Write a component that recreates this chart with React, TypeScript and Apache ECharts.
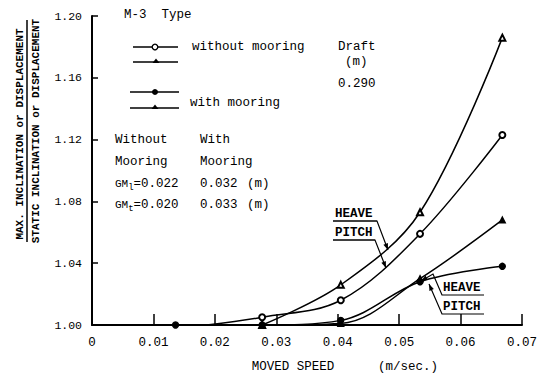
import React, { useEffect, useRef } from "react";
import * as echarts from "echarts";

const xTicks = [0, 0.01, 0.02, 0.03, 0.04, 0.05, 0.06, 0.07];
const yTicks = [1.0, 1.04, 1.08, 1.12, 1.16, 1.2];

const heaveFreeX = [0.0277, 0.0405, 0.0534, 0.0668];
const heaveFreeY = [1.0, 1.026, 1.073, 1.186];
const pitchFreeX = [0.0187, 0.0277, 0.0405, 0.0534, 0.0668];
const pitchFreeY = [1.0, 1.005, 1.016, 1.059, 1.123];
const heaveMoorX = [0.0277, 0.0405, 0.0534, 0.0668];
const heaveMoorY = [1.0, 1.001, 1.03, 1.068];
const pitchMoorX = [0.0136, 0.0277, 0.0405, 0.0534, 0.0668];
const pitchMoorY = [1.0, 1.0, 1.003, 1.028, 1.038];

const FONT = "'Liberation Mono', 'DejaVu Sans Mono', monospace";
const FS = 12.5;

function arrowHead(x1: number, y1: number, x2: number, y2: number) {
  const a = Math.atan2(y2 - y1, x2 - x1);
  const L = 7;
  const w = 0.35;
  return {
    type: "polygon",
    shape: {
      points: [
        [x2, y2],
        [x2 - L * Math.cos(a - w), y2 - L * Math.sin(a - w)],
        [x2 - L * Math.cos(a + w), y2 - L * Math.sin(a + w)],
      ],
    },
    style: { fill: "#000" },
  };
}

function leader(pts: number[][]) {
  const n = pts.length;
  return [
    { type: "polyline", shape: { points: pts }, style: { stroke: "#000", lineWidth: 1.2, fill: null } },
    arrowHead(pts[n - 2][0], pts[n - 2][1], pts[n - 1][0], pts[n - 1][1]),
  ];
}

function txt(x: number, y: number, text: string, size = FS, extra: any = {}) {
  return {
    type: "text",
    x,
    y,
    style: { text, fontFamily: FONT, fontSize: size, fill: "#000", align: "left", verticalAlign: "middle", ...extra },
  };
}

function hline(x1: number, x2: number, y: number, lw = 1.5) {
  return { type: "line", shape: { x1, y1: y, x2, y2: y }, style: { stroke: "#000", lineWidth: lw } };
}

function zip(xs: number[], ys: number[]) {
  return xs.map((x, i) => [x, ys[i]]);
}

function gmText(x: number, y: number, sub: string, val: string) {
  return {
    type: "text",
    x,
    y,
    style: {
      text: `{a|GM}{s|${sub}}{b|=${val}}`,
      fontFamily: FONT,
      fill: "#000",
      verticalAlign: "middle",
      rich: {
        a: { fontFamily: FONT, fontSize: 11, fill: "#000" },
        s: { fontFamily: FONT, fontSize: 9, fill: "#000", padding: [7, 0, 0, 0] },
        b: { fontFamily: FONT, fontSize: FS, fill: "#000" },
      },
    },
  };
}

export default function App() {
  const ref = useRef<HTMLDivElement>(null);
  useEffect(() => {
    const chart = echarts.init(ref.current!, null, { renderer: "svg" });
    const lineStyle = { color: "#000", width: 1.5 };
    const base = {
      type: "line",
      smooth: 0.35,
      symbolSize: 6,
      lineStyle,
      itemStyle: { color: "#000", borderColor: "#000", borderWidth: 1.3 },
      z: 3,
    };
    const pitchFreeData = zip(pitchFreeX, pitchFreeY).map((d, i) =>
      i === 0 ? { value: d, symbol: "none" } : { value: d }
    );
    const pitchMoorData = zip(pitchMoorX, pitchMoorY);

    const graphic: any[] = [
      {
        type: "text",
        x: 20,
        y: 134,
        rotation: Math.PI / 2,
        style: {
          text: "MAX. INCLINATION or DISPLACEMENT",
          fontFamily: FONT,
          fontSize: 11,
          fontWeight: "bold",
          fill: "#000",
          align: "center",
          verticalAlign: "middle",
        },
      },
      { type: "line", shape: { x1: 27, y1: 20, x2: 27, y2: 242 }, style: { stroke: "#000", lineWidth: 1.5 } },
      {
        type: "text",
        x: 36,
        y: 131,
        rotation: Math.PI / 2,
        style: {
          text: "STATIC INCLINATION or DISPLACEMENT",
          fontFamily: FONT,
          fontSize: 11,
          fontWeight: "bold",
          fill: "#000",
          align: "center",
          verticalAlign: "middle",
        },
      },
      txt(293, 367, "MOVED SPEED", FS, { align: "center" }),
      txt(408, 367, "(m/sec.)", FS, { align: "center" }),
      txt(124, 15, "M-3  Type"),
      hline(133, 178, 47),
      { type: "circle", shape: { cx: 155, cy: 47, r: 2.8 }, style: { fill: "#fff", stroke: "#000", lineWidth: 1.3 } },
      txt(192, 47, "without mooring"),
      hline(133, 178, 62),
      { type: "polygon", shape: { points: [[156, 58.5], [152.5, 63], [159.5, 63]] }, style: { fill: "#000" } },
      txt(338, 47, "Draft"),
      txt(345, 62, "(m)"),
      txt(338, 84, "0.290"),
      hline(130, 179, 92),
      { type: "circle", shape: { cx: 155, cy: 92, r: 3 }, style: { fill: "#000" } },
      hline(130, 179, 108),
      { type: "polygon", shape: { points: [[155, 104.5], [151.5, 109], [158.5, 109]] }, style: { fill: "#000" } },
      txt(190, 103, "with mooring"),
      txt(115, 140, "Without"),
      txt(200, 140, "With"),
      txt(115, 162, "Mooring"),
      txt(200, 162, "Mooring"),
      gmText(115, 184, "l", "0.022"),
      txt(200, 184, "0.032"),
      txt(247, 184, "(m)"),
      gmText(115, 205, "t", "0.020"),
      txt(200, 205, "0.033"),
      txt(247, 205, "(m)"),
      txt(335, 214, "HEAVE", FS, { fontWeight: "bold" }),
      hline(333, 377, 221, 1.2),
      ...leader([[333, 221], [377, 221], [388, 250]]),
      txt(335, 233, "PITCH", FS, { fontWeight: "bold" }),
      hline(333, 375, 240, 1.2),
      ...leader([[333, 240], [375, 240], [386, 268]]),
      txt(443, 288, "HEAVE", FS, { fontWeight: "bold" }),
      ...leader([[484, 295], [442, 295], [433, 274], [421, 281]]),
      txt(443, 307, "PITCH", FS, { fontWeight: "bold" }),
      ...leader([[484, 314], [442, 314], [429, 284]]),
    ];

    chart.setOption({
      animation: false,
      grid: { left: 92, right: 16, top: 16, bottom: 51 },
      xAxis: {
        type: "value",
        min: xTicks[0],
        max: xTicks[xTicks.length - 1],
        interval: 0.01,
        axisLine: { show: true, lineStyle: { color: "#000", width: 2 } },
        axisTick: { show: true, inside: true, length: 11, lineStyle: { color: "#000", width: 1.5 } },
        splitLine: { show: false },
        axisLabel: {
          color: "#000",
          fontFamily: FONT,
          fontSize: 12.5,
          margin: 11,
          formatter: (v: number) => (v === 0 ? "0" : v.toFixed(2)),
        },
      },
      yAxis: {
        type: "value",
        min: yTicks[0],
        max: yTicks[yTicks.length - 1],
        interval: 0.04,
        axisLine: { show: true, lineStyle: { color: "#000", width: 2 } },
        axisTick: { show: true, inside: true, length: 6, lineStyle: { color: "#000", width: 1.5 } },
        splitLine: { show: false },
        axisLabel: {
          color: "#000",
          fontFamily: FONT,
          fontSize: 11.5,
          margin: 10,
          formatter: (v: number) => v.toFixed(2),
        },
      },
      series: [
        { ...base, name: "heaveFree", symbol: "emptyTriangle", data: zip(heaveFreeX, heaveFreeY) },
        { ...base, name: "pitchFree", symbol: "emptyCircle", data: pitchFreeData },
        { ...base, name: "heaveMoor", symbol: "triangle", data: zip(heaveMoorX, heaveMoorY) },
        { ...base, name: "pitchMoor", symbol: "circle", data: pitchMoorData },
      ],
      graphic,
    });
    return () => chart.dispose();
  }, []);
  return <div ref={ref} style={{ position: "fixed", left: 0, top: 0, width: 540, height: 376, background: "#fff" }} />;
}
